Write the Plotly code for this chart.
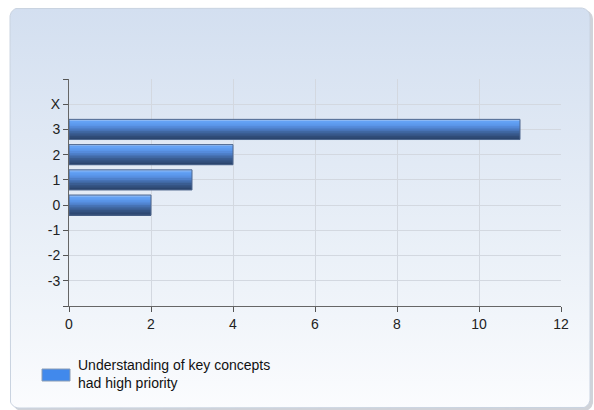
import numpy as np
import plotly.graph_objects as go

# ---- data -------------------------------------------------------------
categories = ["X", "3", "2", "1", "0", "-1", "-2", "-3"]
positions = [4, 3, 2, 1, 0, -1, -2, -3]
counts = [0, 11, 4, 3, 2, 0, 0, 0]
series_name = "Understanding of key concepts<br>had high priority"

x_ticks = [0, 2, 4, 6, 8, 10, 12]
y_tickvals = [5, 4, 3, 2, 1, 0, -1, -2, -3, -4]
y_ticktext = ["", "X", "3", "2", "1", "0", "-1", "-2", "-3", ""]

# ---- style ------------------------------------------------------------
W, H = 594, 410
FONT = "Liberation Sans, Arial, sans-serif"
BAR_WIDTH = 0.8
# bar shading, top edge to bottom edge
bar_shades = ["#8bb8f4", "#64a2f5", "#5e9cf0", "#5a95e8", "#558bdb", "#4e80ca",
              "#4773b6", "#4068a3", "#3a5d92", "#355484", "#304c78", "#2b456e"]

fig = go.Figure()

# rounded backdrop panel with a vertical gradient (pixel coordinates)
def rounded_rect(x0, y0, x1, y1, r, n=10):
    pts = []
    corners = [(x1 - r, y1 - r, 0), (x0 + r, y1 - r, 90),
               (x0 + r, y0 + r, 180), (x1 - r, y0 + r, 270)]
    for cx, cy, a0 in corners:
        for t in np.linspace(np.radians(a0), np.radians(a0 + 90), n):
            pts.append((cx + r * np.cos(t), cy + r * np.sin(t)))
    pts.append(pts[0])
    xs, ys = zip(*pts)
    return list(xs), list(ys)

# soft shadow, then the panel itself (y-up pixel space)
sx, sy = rounded_rect(13, H - 411, 593, H - 10, 9)
fig.add_trace(go.Scatter(x=sx, y=sy, fill="toself", fillcolor="rgba(120,130,145,0.35)",
                         line=dict(width=0), mode="lines", hoverinfo="skip",
                         showlegend=False, xaxis="x", yaxis="y"))
px, py = rounded_rect(10, H - 408, 590, H - 8, 9)
fig.add_trace(go.Scatter(
    x=px, y=py, fill="toself", mode="lines",
    line=dict(color="#c9d3e0", width=1),
    fillgradient=dict(type="vertical", start=0, stop=H - 8,
                      colorscale=[[0, "#fbfcfe"], [0.3, "#eef3f9"], [1, "#d3dff0"]]),
    hoverinfo="skip", showlegend=False, xaxis="x", yaxis="y"))

# striped bars give the shaded cylinder look
n = len(bar_shades)
sw = BAR_WIDTH / n
for i, c in enumerate(bar_shades):
    fig.add_trace(go.Bar(
        x=counts, y=positions, orientation="h",
        width=sw, offset=BAR_WIDTH / 2 - (i + 1) * sw,
        marker=dict(color=c, line=dict(width=0)),
        showlegend=False, hoverinfo="skip", xaxis="x2", yaxis="y2"))
# outline (none on empty categories)
fig.add_trace(go.Bar(
    x=counts, y=positions, orientation="h", width=BAR_WIDTH,
    marker=dict(color="rgba(0,0,0,0)",
                line=dict(color="#51698f", width=[1 if v else 0 for v in counts])),
    name=series_name, showlegend=False, xaxis="x2", yaxis="y2"))

x_dom = [69 / W, 561 / W]
y_dom = [1 - 306 / H, 1 - 79 / H]

fig.update_layout(
    width=W, height=H,
    margin=dict(l=0, r=0, t=0, b=0, autoexpand=False),
    paper_bgcolor="white",
    plot_bgcolor="rgba(0,0,0,0)",
    barmode="overlay",
    showlegend=False,
    font=dict(family=FONT, size=14, color="#222"),
    xaxis=dict(domain=[0, 1], range=[0, W], visible=False, fixedrange=True,
               automargin=False),
    yaxis=dict(domain=[0, 1], range=[0, H], visible=False, fixedrange=True,
               automargin=False),
    xaxis2=dict(domain=x_dom, anchor="y2", range=[0, 12], tickvals=x_ticks,
                ticks="outside", ticklen=5, tickcolor="#555", showline=True,
                linecolor="#666", linewidth=1, showgrid=True, gridcolor="#d3d8e0",
                zeroline=False, automargin=False, tickfont=dict(size=14, color="#222")),
    yaxis2=dict(domain=y_dom, anchor="x2", range=[-4, 5], tickvals=y_tickvals,
                ticktext=y_ticktext, ticks="outside", ticklen=5, tickcolor="#555",
                showline=True, linecolor="#666", linewidth=1, showgrid=True,
                gridcolor="#d3d8e0", zeroline=False, automargin=False,
                tickfont=dict(size=14, color="#222")),
)

# legend key
fig.add_shape(type="rect", xref="paper", yref="paper",
              x0=42 / W, x1=70 / W, y0=1 - 381 / H, y1=1 - 369 / H,
              fillcolor="#4189ec", line=dict(color="#8a9cb4", width=1))
fig.add_annotation(xref="paper", yref="paper", x=76 / W, y=1 - 374 / H,
                   xanchor="left", yanchor="middle", align="left",
                   text=series_name, showarrow=False,
                   font=dict(family=FONT, size=14, color="#111"))

fig.write_html("out.html")
